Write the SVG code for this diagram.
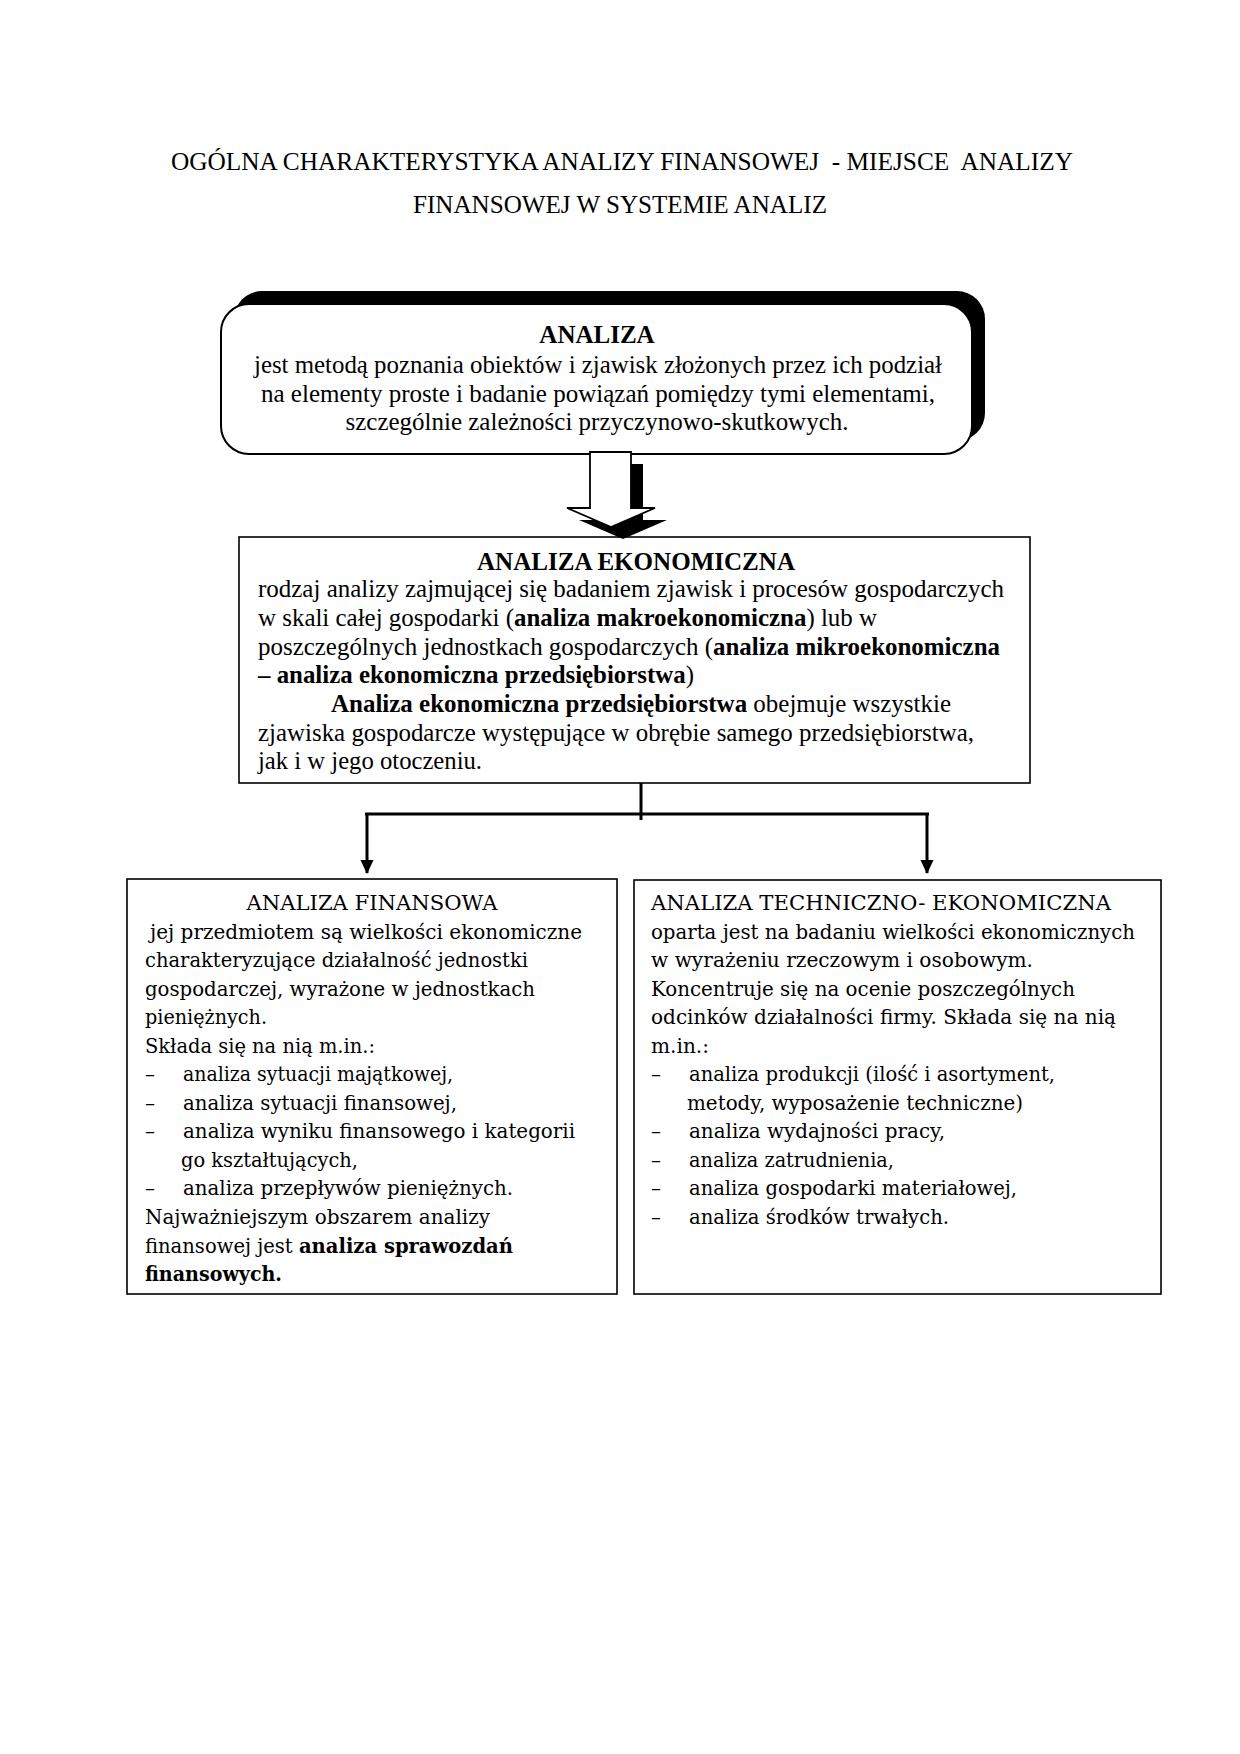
<svg xmlns="http://www.w3.org/2000/svg" width="1240" height="1754" viewBox="0 0 1240 1754">
<style>
  .t { font-family: "Liberation Serif", "Times New Roman", serif; font-size: 25px; fill: #000; }
  .d { font-family: "DejaVu Serif", "Liberation Serif", serif; font-size: 20px; fill: #000; }
  .b { font-weight: bold; }
  .box { fill: #fff; stroke: #000; stroke-width: 1.6; }
  .conn { stroke: #000; stroke-width: 3; fill: none; }
</style>
<defs>
  <marker id="ah" markerUnits="userSpaceOnUse" markerWidth="14" markerHeight="14" viewBox="0 0 14 14" refX="13" refY="7" orient="auto">
    <path d="M0,0.5 L14,7 L0,13.5 z" fill="#000"/>
  </marker>
  <polygon id="bigArrow" points="590,452 631,452 631,508 655,508 611,527 567,508 590,508"/>
</defs>
<rect width="1240" height="1754" fill="#fff"/>

<g id="title">
  <text class="t" x="622" y="170" text-anchor="middle" xml:space="preserve" textLength="902" lengthAdjust="spacingAndGlyphs">OGÓLNA CHARAKTERYSTYKA ANALIZY FINANSOWEJ  - MIEJSCE  ANALIZY</text>
  <text class="t" x="620" y="213" text-anchor="middle" textLength="414" lengthAdjust="spacingAndGlyphs">FINANSOWEJ W SYSTEMIE ANALIZ</text>
</g>

<g id="node-analiza">
  <rect x="234" y="291" width="751" height="150" rx="28" ry="28" fill="#000"/>
  <rect x="221" y="304" width="751" height="150" rx="28" ry="28" fill="#fff" stroke="#000" stroke-width="2"/>
  <text class="t b" x="597" y="343" text-anchor="middle">ANALIZA</text>
  <text class="t" x="598" y="373" text-anchor="middle" textLength="688" lengthAdjust="spacingAndGlyphs">jest metodą poznania obiektów i zjawisk złożonych przez ich podział</text>
  <text class="t" x="598" y="402" text-anchor="middle" textLength="674" lengthAdjust="spacingAndGlyphs">na elementy proste i badanie powiązań pomiędzy tymi elementami,</text>
  <text class="t" x="597" y="430" text-anchor="middle" textLength="503" lengthAdjust="spacingAndGlyphs">szczególnie zależności przyczynowo-skutkowych.</text>
</g>

<g id="node-analiza-ekonomiczna">
  <rect class="box" x="239" y="537" width="791" height="246"/>
  <text class="t b" x="636" y="570" text-anchor="middle" textLength="318" lengthAdjust="spacingAndGlyphs">ANALIZA EKONOMICZNA</text>
  <text class="t" x="258" y="597" textLength="746" lengthAdjust="spacingAndGlyphs">rodzaj analizy zajmującej się badaniem zjawisk i procesów gospodarczych</text>
  <text class="t" x="258" y="626" textLength="619" lengthAdjust="spacingAndGlyphs">w skali całej gospodarki (<tspan class="b">analiza makroekonomiczna</tspan>) lub w</text>
  <text class="t" x="258" y="655" textLength="742" lengthAdjust="spacingAndGlyphs">poszczególnych jednostkach gospodarczych (<tspan class="b">analiza mikroekonomiczna</tspan></text>
  <text class="t" x="258" y="683" textLength="436" lengthAdjust="spacingAndGlyphs"><tspan class="b">– analiza ekonomiczna przedsiębiorstwa</tspan>)</text>
  <text class="t" x="331" y="712" textLength="620" lengthAdjust="spacingAndGlyphs"><tspan class="b">Analiza ekonomiczna przedsiębiorstwa</tspan> obejmuje wszystkie</text>
  <text class="t" x="258" y="741" textLength="716" lengthAdjust="spacingAndGlyphs">zjawiska gospodarcze występujące w obrębie samego przedsiębiorstwa,</text>
  <text class="t" x="258" y="769" textLength="224" lengthAdjust="spacingAndGlyphs">jak i w jego otoczeniu.</text>
</g>

<g id="node-analiza-finansowa">
  <rect class="box" x="127" y="879" width="490" height="415"/>
  <text class="d" x="372" y="910" text-anchor="middle" textLength="251" lengthAdjust="spacingAndGlyphs">ANALIZA FINANSOWA</text>
  <text class="d" x="150" y="939" textLength="432" lengthAdjust="spacingAndGlyphs">jej przedmiotem są wielkości ekonomiczne</text>
  <text class="d" x="145" y="967" textLength="383" lengthAdjust="spacingAndGlyphs">charakteryzujące działalność jednostki</text>
  <text class="d" x="145" y="996" textLength="390" lengthAdjust="spacingAndGlyphs">gospodarczej, wyrażone w jednostkach</text>
  <text class="d" x="145" y="1024" textLength="122" lengthAdjust="spacingAndGlyphs">pieniężnych.</text>
  <text class="d" x="145" y="1053" textLength="230" lengthAdjust="spacingAndGlyphs">Składa się na nią m.in.:</text>
  <text class="d" x="145" y="1081">–</text>
  <text class="d" x="183" y="1081" textLength="270" lengthAdjust="spacingAndGlyphs">analiza sytuacji majątkowej,</text>
  <text class="d" x="145" y="1110">–</text>
  <text class="d" x="183" y="1110" textLength="274" lengthAdjust="spacingAndGlyphs">analiza sytuacji finansowej,</text>
  <text class="d" x="145" y="1138">–</text>
  <text class="d" x="183" y="1138" textLength="392" lengthAdjust="spacingAndGlyphs">analiza wyniku finansowego i kategorii</text>
  <text class="d" x="181" y="1167" textLength="177" lengthAdjust="spacingAndGlyphs">go kształtujących,</text>
  <text class="d" x="145" y="1195">–</text>
  <text class="d" x="183" y="1195" textLength="330" lengthAdjust="spacingAndGlyphs">analiza przepływów pieniężnych.</text>
  <text class="d" x="145" y="1224" textLength="345" lengthAdjust="spacingAndGlyphs">Najważniejszym obszarem analizy</text>
  <text class="d" x="145" y="1253" textLength="368" lengthAdjust="spacingAndGlyphs">finansowej jest <tspan class="b">analiza sprawozdań</tspan></text>
  <text class="d b" x="145" y="1281" textLength="137" lengthAdjust="spacingAndGlyphs">finansowych.</text>
</g>

<g id="node-analiza-techniczno-ekonomiczna">
  <rect class="box" x="634" y="880" width="527" height="414"/>
  <text class="d" x="651" y="910" xml:space="preserve" textLength="460" lengthAdjust="spacingAndGlyphs">ANALIZA TECHNICZNO- EKONOMICZNA</text>
  <text class="d" x="651" y="939" textLength="484" lengthAdjust="spacingAndGlyphs">oparta jest na badaniu wielkości ekonomicznych</text>
  <text class="d" x="651" y="967" textLength="382" lengthAdjust="spacingAndGlyphs">w wyrażeniu rzeczowym i osobowym.</text>
  <text class="d" x="651" y="996" textLength="424" lengthAdjust="spacingAndGlyphs">Koncentruje się na ocenie poszczególnych</text>
  <text class="d" x="651" y="1024" textLength="465" lengthAdjust="spacingAndGlyphs">odcinków działalności firmy. Składa się na nią</text>
  <text class="d" x="651" y="1053" textLength="58" lengthAdjust="spacingAndGlyphs">m.in.:</text>
  <text class="d" x="651" y="1081">–</text>
  <text class="d" x="689" y="1081" textLength="366" lengthAdjust="spacingAndGlyphs">analiza produkcji (ilość i asortyment,</text>
  <text class="d" x="687" y="1110" textLength="336" lengthAdjust="spacingAndGlyphs">metody, wyposażenie techniczne)</text>
  <text class="d" x="651" y="1138">–</text>
  <text class="d" x="689" y="1138" textLength="256" lengthAdjust="spacingAndGlyphs">analiza wydajności pracy,</text>
  <text class="d" x="651" y="1167">–</text>
  <text class="d" x="689" y="1167" textLength="205" lengthAdjust="spacingAndGlyphs">analiza zatrudnienia,</text>
  <text class="d" x="651" y="1195">–</text>
  <text class="d" x="689" y="1195" textLength="328" lengthAdjust="spacingAndGlyphs">analiza gospodarki materiałowej,</text>
  <text class="d" x="651" y="1224">–</text>
  <text class="d" x="689" y="1224" textLength="260" lengthAdjust="spacingAndGlyphs">analiza środków trwałych.</text>
</g>

<g id="connectors">
  <use href="#bigArrow" transform="translate(12,12)" fill="#000"/>
  <use href="#bigArrow" fill="#fff" stroke="#000" stroke-width="1.8" stroke-linejoin="miter"/>
  <line class="conn" x1="641" y1="783" x2="641" y2="820"/>
  <line class="conn" x1="365" y1="814" x2="929" y2="814"/>
  <line class="conn" x1="367" y1="814" x2="367" y2="873" marker-end="url(#ah)"/>
  <line class="conn" x1="927" y1="814" x2="927" y2="873" marker-end="url(#ah)"/>
</g>
</svg>
